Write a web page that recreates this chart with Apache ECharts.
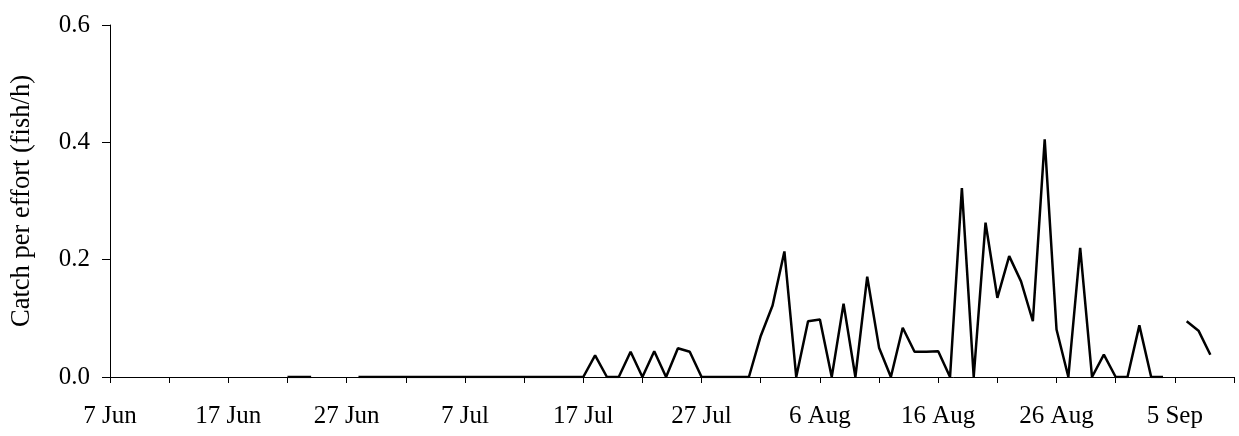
<!DOCTYPE html>
<html>
<head>
<meta charset="utf-8">
<script src="https://cdn.jsdelivr.net/npm/echarts@6/dist/echarts.min.js"></script>
<style>
  html, body { margin: 0; padding: 0; background: #fff; }
  #chart { width: 1239px; height: 436px; }
</style>
</head>
<body>
<div id="chart"></div>
<script>
// x tick labels, one every 10 days from 7 Jun
const tickLabels = ['7 Jun', '17 Jun', '27 Jun', '7 Jul', '17 Jul', '27 Jul', '6 Aug', '16 Aug', '26 Aug', '5 Sep']

// catch per effort by day since 7 Jun (null = no sampling)
const cpue = [
  null, null, null, null, null, null, null, null, null, null,
  null, null, null, null, null, 0, 0, 0, null, null,
  null, 0, 0, 0, 0, 0, 0, 0, 0, 0,
  0, 0, 0, 0, 0, 0, 0, 0, 0, 0,
  0, 0.037, 0, 0, 0.043, 0, 0.044, 0, 0.049, 0.043,
  0, 0, 0, 0, 0, 0.070, 0.122, 0.214, 0, 0.095,
  0.098, 0, 0.125, 0, 0.171, 0.050, 0, 0.084, 0.043, 0.043,
  0.044, 0, 0.322, 0, 0.263, 0.135, 0.206, 0.163, 0.095, 0.405,
  0.081, 0, 0.220, 0, 0.038, 0, 0, 0.088, 0, 0,
  null, 0.095, 0.079, 0.038
]

const font = 'Liberation Serif'
const fontSize = 25
const chart = echarts.init(document.getElementById('chart'))

chart.setOption({
  animation: false,
  grid: { left: 110, right: 5, top: 25, bottom: 59 },
  xAxis: {
    type: 'value',
    min: 0,
    max: 95,
    interval: 5,
    splitLine: { show: false },
    axisLine: { lineStyle: { color: '#000', width: 1 } },
    axisTick: { length: 6, lineStyle: { color: '#000' } },
    axisLabel: {
      margin: 27,
      color: '#000',
      fontFamily: font,
      fontSize: fontSize,
      showMaxLabel: true,
      formatter: (v) => (v % 10 === 0 ? (tickLabels[v / 10] || '') : '')
    }
  },
  yAxis: {
    type: 'value',
    min: 0,
    max: 0.6,
    interval: 0.2,
    name: 'Catch per effort (fish/h)',
    nameLocation: 'middle',
    nameGap: 74,
    nameTextStyle: { color: '#000', fontFamily: font, fontSize: 26.5 },
    splitLine: { show: false },
    axisLine: { show: true, lineStyle: { color: '#000', width: 1 } },
    axisTick: { show: true, length: 8, lineStyle: { color: '#000' } },
    axisLabel: {
      margin: 20,
      color: '#000',
      fontFamily: font,
      fontSize: fontSize,
      formatter: (v) => v.toFixed(1)
    }
  },
  series: [
    {
      type: 'line',
      data: cpue.map((v, i) => [i, v]),
      showSymbol: false,
      connectNulls: false,
      lineStyle: { color: '#000', width: 2.5 },
      z: 3
    }
  ]
})
</script>
</body>
</html>
